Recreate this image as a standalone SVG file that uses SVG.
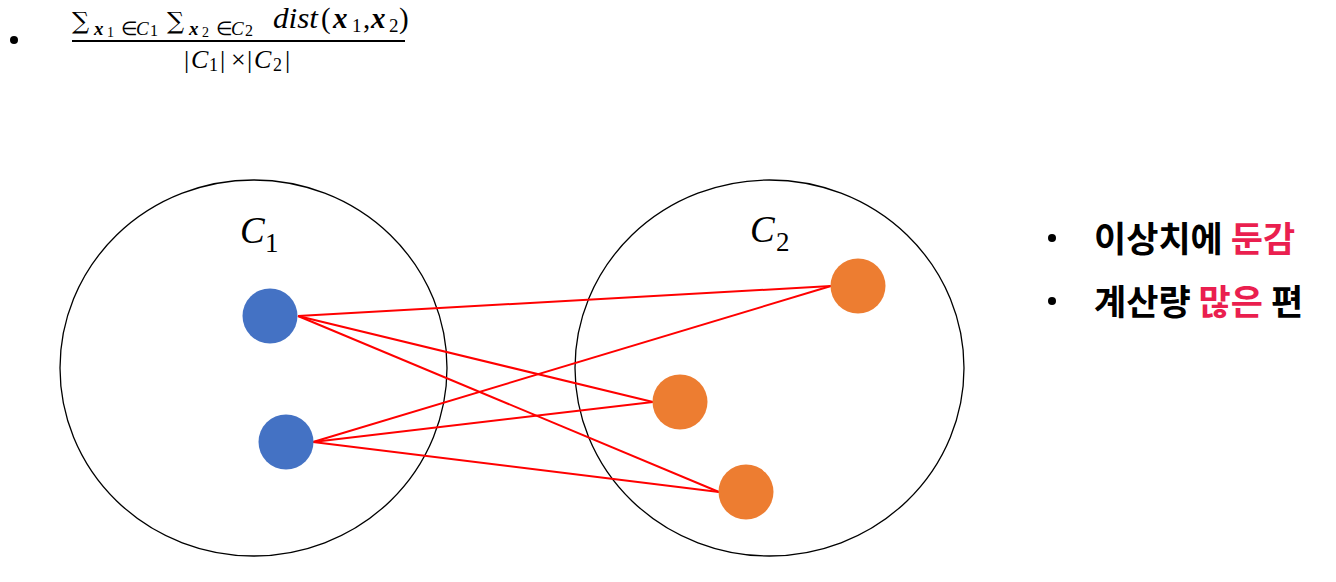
<svg xmlns="http://www.w3.org/2000/svg" width="1336" height="582" viewBox="0 0 1336 582">
<style>
.cl{fill:none;stroke:#000;stroke-width:1.3}
.ln{stroke:#ff0000;stroke-width:2;fill:none}
.b{fill:#4472c4}
.o{fill:#ed7d31}
.m{font-family:"Liberation Serif",serif;fill:#000}
.it{font-style:italic}
.bi{font-style:italic;font-weight:bold}
.k{font-family:"Noto Sans CJK KR","Noto Sans",sans-serif;font-weight:bold;font-size:35px;fill:#000}
.r{fill:#ea1f4f}
</style>
<rect width="1336" height="582" fill="#fff"/>
<g id="formula">
<circle cx="14" cy="40" r="4" fill="#000"/>
<text class="m" font-size="30" y="29"><tspan x="72" font-family="DejaVu Serif" font-size="24">∑</tspan><tspan x="167" font-family="DejaVu Serif" font-size="24">∑</tspan></text>
<text class="m" font-size="19" y="35"><tspan x="94" class="bi">x</tspan><tspan x="107" font-size="14" dy="2">1</tspan><tspan x="121" dy="-2">∈</tspan><tspan x="136" class="it">C</tspan><tspan x="150" font-size="16" dy="1">1</tspan></text>
<text class="m" font-size="19" y="35"><tspan x="189" class="bi">x</tspan><tspan x="202" font-size="14" dy="2">2</tspan><tspan x="216" dy="-2">∈</tspan><tspan x="231" class="it">C</tspan><tspan x="245" font-size="16" dy="1">2</tspan></text>
<text class="m" font-size="29" y="28"><tspan x="273" class="it" textLength="45" lengthAdjust="spacingAndGlyphs">dist</tspan><tspan x="321">(</tspan><tspan x="333" class="bi">x</tspan><tspan x="352" font-size="19" dy="4">1</tspan><tspan x="363" dy="-4">,</tspan><tspan x="371" class="bi">x</tspan><tspan x="389" font-size="19" dy="4">2</tspan><tspan x="399" dy="-4">)</tspan></text>
<line x1="72" y1="41" x2="405" y2="41" stroke="#000" stroke-width="2"/>
<text class="m" font-size="26" y="68"><tspan x="184">|</tspan><tspan x="191" class="it">C</tspan><tspan x="209" font-size="18" dy="3">1</tspan><tspan x="220" dy="-3">|</tspan><tspan x="231">×</tspan><tspan x="247">|</tspan><tspan x="254" class="it">C</tspan><tspan x="273" font-size="18" dy="3">2</tspan><tspan x="285" dy="-3">|</tspan></text>
</g>
<g id="cluster1">
<ellipse class="cl" cx="253.5" cy="368" rx="193.5" ry="188"/>
<text class="m it" font-size="37" x="240" y="243">C<tspan x="265" dy="9" font-size="27" font-style="normal">1</tspan></text>
</g>
<g id="cluster2">
<ellipse class="cl" cx="769.5" cy="368" rx="194.5" ry="188"/>
<text class="m it" font-size="37" x="750" y="242">C<tspan x="776" dy="9" font-size="27" font-style="normal">2</tspan></text>
</g>
<g id="connectors">
<line class="ln" x1="298" y1="316" x2="831" y2="286"/>
<line class="ln" x1="298" y1="316" x2="653" y2="402"/>
<line class="ln" x1="298" y1="316" x2="719" y2="492"/>
<line class="ln" x1="313" y1="442" x2="831" y2="286"/>
<line class="ln" x1="313" y1="442" x2="653" y2="402"/>
<line class="ln" x1="313" y1="442" x2="719" y2="492"/>
</g>
<g id="b1"><circle class="b" cx="270" cy="316" r="27.5"/></g>
<g id="b2"><circle class="b" cx="286" cy="442" r="27.5"/></g>
<g id="o1"><circle class="o" cx="858" cy="286" r="27.5"/></g>
<g id="o2"><circle class="o" cx="680" cy="402" r="27.5"/></g>
<g id="o3"><circle class="o" cx="746" cy="492" r="27.5"/></g>
<g id="notes">
<circle cx="1052" cy="238" r="4" fill="#000"/>
<text class="k" x="1094" y="252">이상치에 <tspan class="r">둔감</tspan></text>
<circle cx="1052" cy="301" r="4" fill="#000"/>
<text class="k" x="1094" y="315">계산량 <tspan class="r">많은</tspan> 편</text>
</g>
</svg>
